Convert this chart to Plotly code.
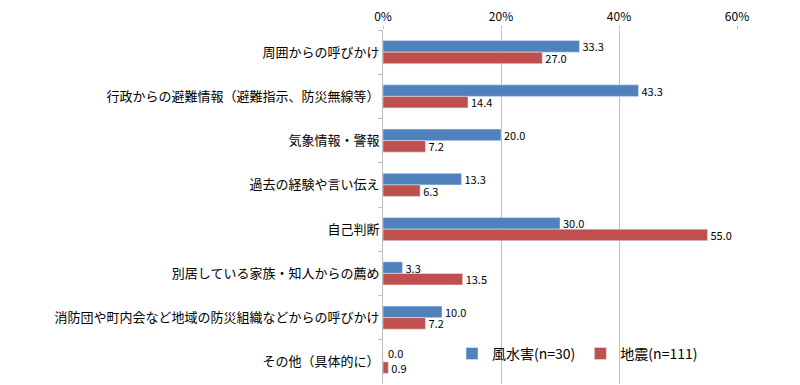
import plotly.graph_objects as go

categories = [
    "周囲からの呼びかけ",
    "行政からの避難情報（避難指示、防災無線等）",
    "気象情報・警報",
    "過去の経験や言い伝え",
    "自己判断",
    "別居している家族・知人からの薦め",
    "消防団や町内会など地域の防災組織などからの呼びかけ",
    "その他（具体的に）",
]
storm_flood = [33.3, 43.3, 20.0, 13.3, 30.0, 3.3, 10.0, 0.0]
earthquake = [27.0, 14.4, 7.2, 6.3, 55.0, 13.5, 7.2, 0.9]
series_names = ["風水害(n=30)", "地震(n=111)"]
x_ticks = [0, 20, 40, 60]
x_tick_labels = ["0%", "20%", "40%", "60%"]

FONT = "Noto Sans CJK JP"
LABEL_FONT = dict(family=FONT, size=11, color="#000000")

# zero-length bars get their label as an annotation (nudged up, as in the original)
storm_text = [f"{v:.1f}" if v > 0 else "" for v in storm_flood]

fig = go.Figure()
fig.add_trace(go.Bar(
    y=categories, x=storm_flood, orientation="h", name=series_names[0],
    marker=dict(color="#4F81BD"),
    text=storm_text, texttemplate="%{text}", textposition="outside",
    constraintext="none", textfont=LABEL_FONT, cliponaxis=False,
))
fig.add_trace(go.Bar(
    y=categories, x=earthquake, orientation="h", name=series_names[1],
    marker=dict(color="#C0504D"),
    text=earthquake, texttemplate="%{x:.1f}", textposition="outside",
    constraintext="none", textfont=LABEL_FONT, cliponaxis=False,
))

for cat, v in zip(categories, storm_flood):
    if v == 0:
        fig.add_annotation(
            x=v, y=cat, text=f"{v:.1f}", showarrow=False,
            xanchor="left", yanchor="middle", xshift=3, yshift=9,
            font=LABEL_FONT,
        )

fig.update_layout(
    width=792, height=377,
    margin=dict(l=375, r=63, t=22, b=1, pad=0, autoexpand=False),
    paper_bgcolor="white", plot_bgcolor="white",
    barmode="group", bargap=0.48, bargroupgap=0,
    font=dict(family=FONT, size=13, color="#000000"),
    legend=dict(
        orientation="h", x=0.195, y=0.085, xanchor="left", yanchor="middle",
        font=dict(family=FONT, size=14, color="#000000"),
        bgcolor="rgba(0,0,0,0)", itemwidth=30, tracegroupgap=0,
    ),
    xaxis=dict(
        side="top", range=[0, 60], tickvals=x_ticks, ticktext=x_tick_labels,
        showgrid=True, gridcolor="#BEBEBE", gridwidth=1,
        ticks="outside", ticklen=3, tickcolor="#BEBEBE",
        showline=False, zeroline=False, automargin=False,
        tickfont=dict(family=FONT, size=12),
    ),
    yaxis=dict(
        autorange="reversed", showline=True, linecolor="#BEBEBE", linewidth=1,
        ticks="outside", ticklen=4, tickcolor="#BEBEBE", tickson="boundaries",
        showgrid=False, automargin=False, tickfont=dict(family=FONT, size=13),
    ),
)

fig.write_html("out.html")
